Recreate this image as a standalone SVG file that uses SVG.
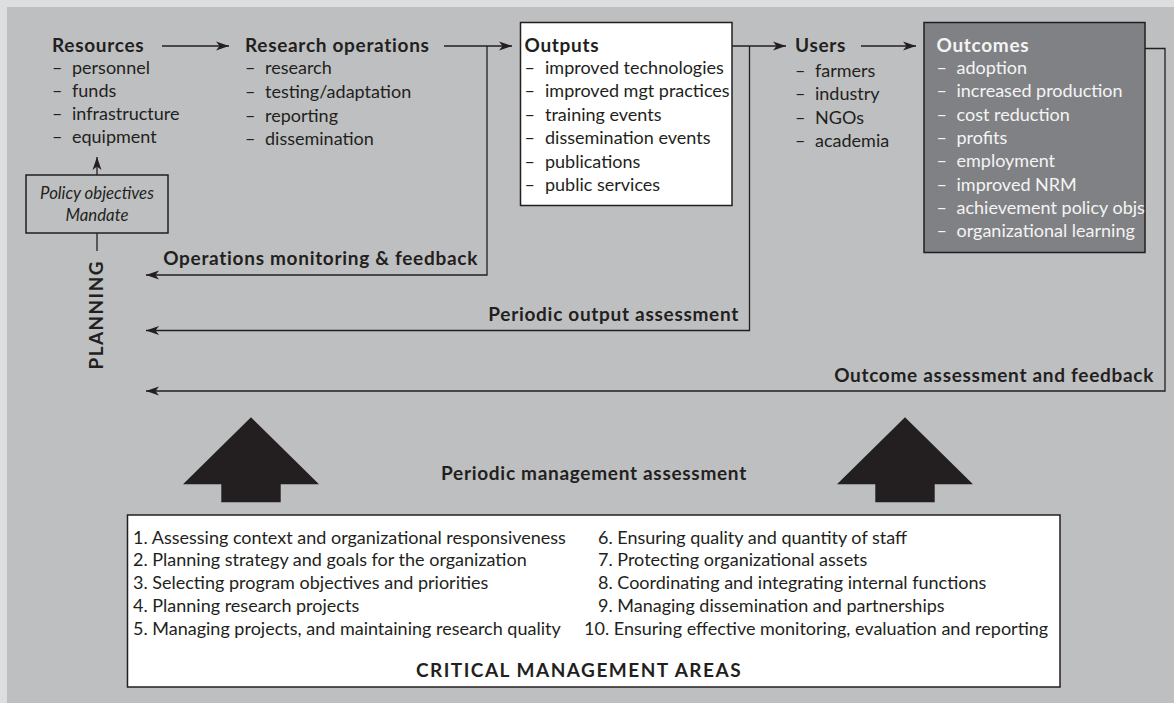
<svg xmlns="http://www.w3.org/2000/svg" width="1174" height="703" viewBox="0 0 1174 703">
<style>
.t{font-family:Lato,"Liberation Sans",sans-serif;fill:#231f20}
.h{font-weight:700;font-size:19px;letter-spacing:0.7px}
.r{font-size:18px}
.it{font-style:italic;font-size:16.8px}
.w{fill:#f4f4f4}
.ln{fill:none;stroke:#231f20;stroke-width:1.3}
.bx{stroke:#231f20;stroke-width:1.5}
</style>
<defs>
<marker id="ah" markerUnits="userSpaceOnUse" markerWidth="14" markerHeight="10" refX="13" refY="5" orient="auto">
<path d="M0,0.5 L13,5 L0,9.5 L3.5,5 z" fill="#231f20"/>
</marker>
</defs>
<rect x="0" y="0" width="1174" height="703" fill="#dddee0"/>
<rect x="7" y="7" width="1167" height="696" fill="#bebfc1"/>

<g id="connectors">
<path class="ln" d="M162,46 H229" marker-end="url(#ah)"/>
<path class="ln" d="M444,46 H512" marker-end="url(#ah)"/>
<path class="ln" d="M732,46 H786" marker-end="url(#ah)"/>
<path class="ln" d="M861,46 H916" marker-end="url(#ah)"/>
<path class="ln" d="M487,46 V275 H146" marker-end="url(#ah)"/>
<path class="ln" d="M749.5,46 V330.5 H146" marker-end="url(#ah)"/>
<path class="ln" d="M1145,48.5 H1165 V391 H146" marker-end="url(#ah)"/>
<path class="ln" d="M97,175 V157" marker-end="url(#ah)"/>
<path class="ln" d="M97,233 V251"/>
<text class="t h" x="478" y="265" text-anchor="end">Operations monitoring &amp; feedback</text>
<text class="t h" x="739" y="321" text-anchor="end">Periodic output assessment</text>
<text class="t h" x="1154" y="381.5" text-anchor="end">Outcome assessment and feedback</text>
</g>

<g id="resources">
<text class="t h" x="52" y="52">Resources</text>
<text class="t r"><tspan x="52" y="74">–</tspan><tspan x="72" y="74">personnel</tspan></text>
<text class="t r"><tspan x="52" y="97">–</tspan><tspan x="72" y="97">funds</tspan></text>
<text class="t r"><tspan x="52" y="120">–</tspan><tspan x="72" y="120">infrastructure</tspan></text>
<text class="t r"><tspan x="52" y="143">–</tspan><tspan x="72" y="143">equipment</tspan></text>
</g>

<g id="research-operations">
<text class="t h" x="245" y="52">Research operations</text>
<text class="t r"><tspan x="245" y="74">–</tspan><tspan x="265" y="74">research</tspan></text>
<text class="t r"><tspan x="245" y="97.5">–</tspan><tspan x="265" y="97.5">testing/adaptation</tspan></text>
<text class="t r"><tspan x="245" y="121.5">–</tspan><tspan x="265" y="121.5">reporting</tspan></text>
<text class="t r"><tspan x="245" y="145">–</tspan><tspan x="265" y="145">dissemination</tspan></text>
</g>

<g id="outputs">
<rect class="bx" x="520.5" y="22.5" width="211.5" height="183" fill="#ffffff"/>
<text class="t h" x="524.5" y="52">Outputs</text>
<text class="t r"><tspan x="524.5" y="74">–</tspan><tspan x="545" y="74">improved technologies</tspan></text>
<text class="t r"><tspan x="524.5" y="97.4">–</tspan><tspan x="545" y="97.4">improved mgt practices</tspan></text>
<text class="t r"><tspan x="524.5" y="120.8">–</tspan><tspan x="545" y="120.8">training events</tspan></text>
<text class="t r"><tspan x="524.5" y="144.2">–</tspan><tspan x="545" y="144.2">dissemination events</tspan></text>
<text class="t r"><tspan x="524.5" y="167.6">–</tspan><tspan x="545" y="167.6">publications</tspan></text>
<text class="t r"><tspan x="524.5" y="191">–</tspan><tspan x="545" y="191">public services</tspan></text>
</g>

<g id="users">
<text class="t h" x="795" y="52">Users</text>
<text class="t r"><tspan x="795" y="77">–</tspan><tspan x="815" y="77">farmers</tspan></text>
<text class="t r"><tspan x="795" y="100.3">–</tspan><tspan x="815" y="100.3">industry</tspan></text>
<text class="t r"><tspan x="795" y="123.6">–</tspan><tspan x="815" y="123.6">NGOs</tspan></text>
<text class="t r"><tspan x="795" y="147">–</tspan><tspan x="815" y="147">academia</tspan></text>
</g>

<g id="outcomes">
<rect class="bx" x="924" y="22.5" width="221" height="230" fill="#808184"/>
<text class="t h w" x="936.5" y="52">Outcomes</text>
<text class="t r w"><tspan x="936.5" y="74">–</tspan><tspan x="956.5" y="74">adoption</tspan></text>
<text class="t r w"><tspan x="936.5" y="97.3">–</tspan><tspan x="956.5" y="97.3">increased production</tspan></text>
<text class="t r w"><tspan x="936.5" y="120.6">–</tspan><tspan x="956.5" y="120.6">cost reduction</tspan></text>
<text class="t r w"><tspan x="936.5" y="143.9">–</tspan><tspan x="956.5" y="143.9">profits</tspan></text>
<text class="t r w"><tspan x="936.5" y="167.2">–</tspan><tspan x="956.5" y="167.2">employment</tspan></text>
<text class="t r w"><tspan x="936.5" y="190.5">–</tspan><tspan x="956.5" y="190.5">improved NRM</tspan></text>
<text class="t r w"><tspan x="936.5" y="213.8">–</tspan><tspan x="956.5" y="213.8">achievement policy objs</tspan></text>
<text class="t r w"><tspan x="936.5" y="237.1">–</tspan><tspan x="956.5" y="237.1">organizational learning</tspan></text>
</g>

<g id="policy">
<rect class="bx" x="26" y="175" width="142" height="58" fill="none"/>
<text class="t it" x="97" y="199" text-anchor="middle">Policy objectives</text>
<text class="t it" x="97" y="221" text-anchor="middle">Mandate</text>
</g>

<g id="planning">
<text class="t" style="font-weight:700;font-size:19px" transform="translate(103,315.5) rotate(-90)" text-anchor="middle" textLength="108" lengthAdjust="spacing">PLANNING</text>
</g>

<g id="management-assessment">
<polygon points="251,417.3 319,484.3 280.7,484.3 280.7,502.3 221.3,502.3 221.3,484.3 183,484.3" fill="#231f20"/>
<polygon points="905,417.3 973,484.3 934.7,484.3 934.7,502.3 875.3,502.3 875.3,484.3 837,484.3" fill="#231f20"/>
<text class="t h" x="594" y="480" text-anchor="middle">Periodic management assessment</text>
</g>

<g id="critical-management-areas">
<rect class="bx" x="127.5" y="515" width="932.5" height="172" fill="#ffffff"/>
<text class="t r" x="133" y="543.5">1. Assessing context and organizational responsiveness</text>
<text class="t r" x="133" y="566.3">2. Planning strategy and goals for the organization</text>
<text class="t r" x="133" y="589.1">3. Selecting program objectives and priorities</text>
<text class="t r" x="133" y="611.9">4. Planning research projects</text>
<text class="t r" x="133" y="634.7">5. Managing projects, and maintaining research quality</text>
<text class="t r" x="598" y="543.5">6. Ensuring quality and quantity of staff</text>
<text class="t r" x="598" y="566.3">7. Protecting organizational assets</text>
<text class="t r" x="598" y="589.1">8. Coordinating and integrating internal functions</text>
<text class="t r" x="598" y="611.9">9. Managing dissemination and partnerships</text>
<text class="t r" x="584" y="634.7">10. Ensuring effective monitoring, evaluation and reporting</text>
<text class="t h" x="579" y="676.5" text-anchor="middle" style="letter-spacing:1.5px">CRITICAL MANAGEMENT AREAS</text>
</g>
</svg>
